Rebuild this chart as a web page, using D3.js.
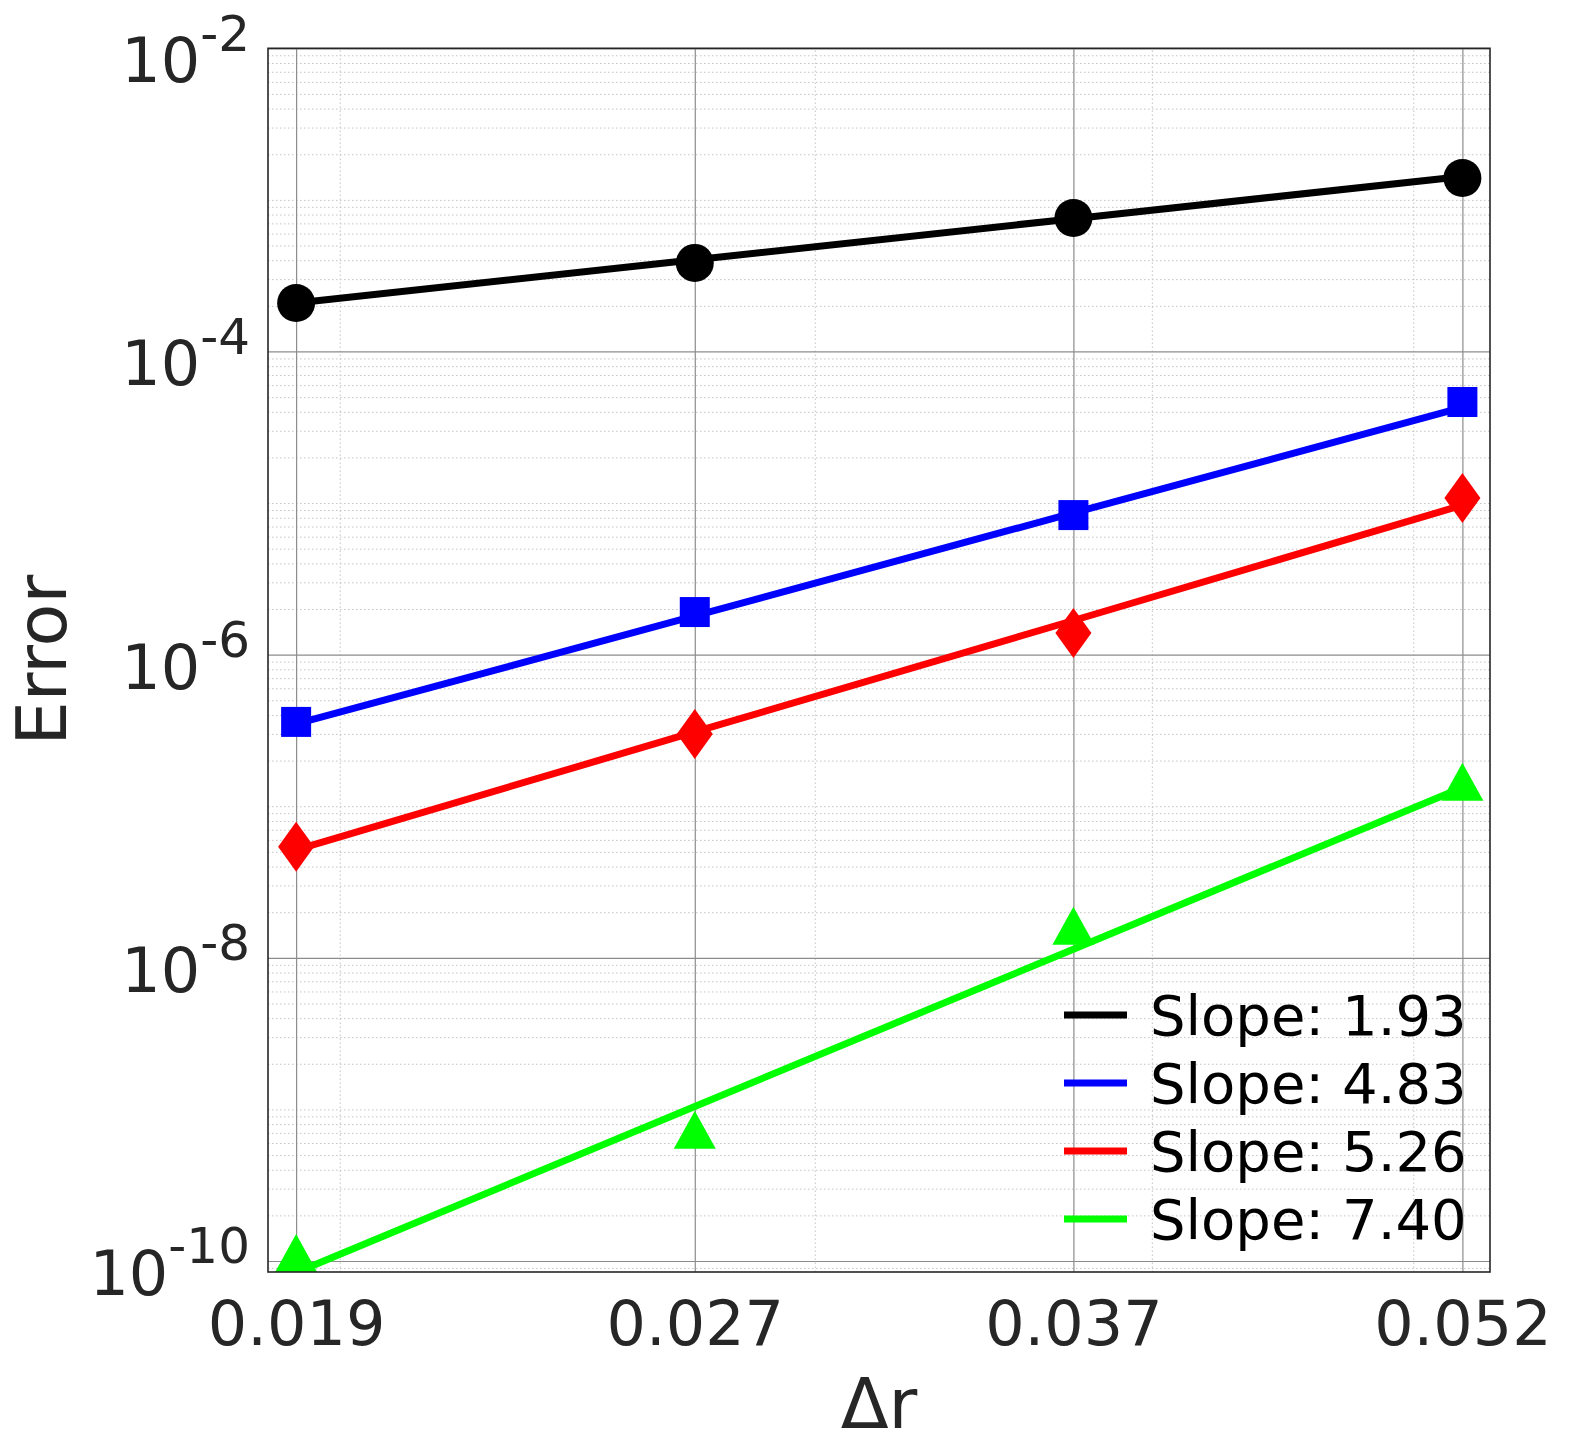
<!DOCTYPE html>
<html>
<head>
<meta charset="utf-8">
<script src="https://cdn.jsdelivr.net/npm/d3@7"></script>
<style>
  body { margin: 0; background: #fff; }
  text { font-family: "DejaVu Sans", sans-serif; fill: #262626; }
</style>
</head>
<body>
<script>
"use strict";

const dr = [0.01927, 0.02708, 0.03741, 0.05214];
const drLabels = ["0.019", "0.027", "0.037", "0.052"];

const errBlack = [2.09e-4, 3.84e-4, 7.60e-4, 1.394e-3];
const errBlue  = [3.60e-7, 1.91e-6, 8.33e-6, 4.64e-5];
const errRed   = [5.41e-8, 3.00e-7, 1.39e-6, 1.08e-5];
const errGreen = [1.13e-10, 7.33e-10, 1.63e-8, 1.45e-7];

// fitted lines drawn through the points
const fitBlack = [2.09e-4, 4.03e-4, 7.52e-4, 1.426e-3];
const fitBlue  = [3.49e-7, 1.80e-6, 8.61e-6, 4.27e-5];
const fitRed   = [5.16e-8, 3.09e-7, 1.68e-6, 9.68e-6];
const fitGreen = [8.39e-11, 1.045e-9, 1.14e-8, 1.33e-7];

const slopes = ["1.93", "4.83", "5.26", "7.40"];

const yMajor = [1e-2, 1e-4, 1e-6, 1e-8, 1e-10];
const xMinor = [0.02, 0.03, 0.04, 0.05];

let width = 1569;
let height = 1440;
let pLeft = 268, pRight = 1490, pTop = 48.3, pBottom = 1272;

let svg = d3.select("body").append("svg").attr("width", width).attr("height", height);

let x = d3.scaleLog().domain([0.018813, 0.053383]).range([pLeft, pRight]);
let y = d3.scaleLog().domain([Math.pow(10, -10.0726), 1e-2]).range([pBottom, pTop]);

let series = [
  { err: errBlack, fit: fitBlack, color: "#000000", marker: "circle" },
  { err: errBlue,  fit: fitBlue,  color: "#0000ff", marker: "square" },
  { err: errRed,   fit: fitRed,   color: "#ff0000", marker: "diamond" },
  { err: errGreen, fit: fitGreen, color: "#00ff00", marker: "triangle" }
];

// minor grid
let isMajor = v => yMajor.some(m => Math.abs(v / m - 1) < 1e-6);
let yMinor = y.ticks().filter(v => !isMajor(v));

svg.append("g")
  .attr("transform", `translate(${pLeft},0)`)
  .call(d3.axisLeft(y).tickValues(yMinor).tickSize(-(pRight - pLeft)).tickFormat(""))
  .call(g => g.select(".domain").remove())
  .selectAll("line").attr("stroke", "#c4c4c4").attr("stroke-width", 1).attr("stroke-dasharray", "1.5,2.5");

svg.append("g")
  .attr("transform", `translate(0,${pBottom})`)
  .call(d3.axisBottom(x).tickValues(xMinor).tickSize(-(pBottom - pTop)).tickFormat(""))
  .call(g => g.select(".domain").remove())
  .selectAll("line").attr("stroke", "#c4c4c4").attr("stroke-width", 1).attr("stroke-dasharray", "1.5,2.5");

// major grid
svg.append("g")
  .attr("transform", `translate(${pLeft},0)`)
  .call(d3.axisLeft(y).tickValues(yMajor).tickSize(-(pRight - pLeft)).tickFormat(""))
  .call(g => g.select(".domain").remove())
  .selectAll("line").attr("stroke", "#8c8c8c").attr("stroke-width", 1.2);

svg.append("g")
  .attr("transform", `translate(0,${pBottom})`)
  .call(d3.axisBottom(x).tickValues(dr).tickSize(-(pBottom - pTop)).tickFormat(""))
  .call(g => g.select(".domain").remove())
  .selectAll("line").attr("stroke", "#8c8c8c").attr("stroke-width", 1.2);

svg.append("clipPath").attr("id", "plot")
  .append("rect").attr("x", pLeft).attr("y", pTop).attr("width", pRight - pLeft).attr("height", pBottom - pTop);

let line = d3.line().x(d => x(d[0])).y(d => y(d[1]));

let lines = svg.append("g").attr("clip-path", "url(#plot)");
series.forEach(s => {
  lines.append("path")
    .datum(dr.map((d, i) => [d, s.fit[i]]))
    .attr("fill", "none")
    .attr("stroke", s.color)
    .attr("stroke-width", 7)
    .attr("d", line);
});

// marker shapes
function markerPath(kind) {
  if (kind === "square") return "M-15,-15H15V15H-15Z";
  if (kind === "diamond") return "M0,-25L18,0L0,25L-18,0Z";
  if (kind === "triangle") return "M0,-19L21,19L-21,19Z";
  return d3.symbol(d3.symbolCircle, Math.PI * 19 * 19)();
}

let marks = svg.append("g");
series.forEach(s => {
  marks.selectAll(null)
    .data(dr.map((d, i) => [d, s.err[i]]))
    .enter()
    .append("path")
      .attr("transform", d => `translate(${x(d[0])},${y(d[1])})`)
      .attr("d", markerPath(s.marker))
      .attr("fill", s.color);
});

// frame
svg.append("rect")
  .attr("x", pLeft).attr("y", pTop)
  .attr("width", pRight - pLeft).attr("height", pBottom - pTop)
  .attr("fill", "none").attr("stroke", "#262626").attr("stroke-width", 1.6);

// x tick labels
svg.append("g")
  .attr("transform", `translate(0,${pBottom})`)
  .call(d3.axisBottom(x).tickValues(dr).tickSize(0).tickFormat((d, i) => drLabels[i]))
  .call(g => g.select(".domain").remove())
  .selectAll("text")
    .attr("y", 73).attr("dy", null)
    .style("font-size", "62px");

// y tick labels as 10^n
svg.append("g")
  .attr("transform", `translate(${pLeft},0)`)
  .call(d3.axisLeft(y).tickValues(yMajor).tickSize(0).tickPadding(18))
  .call(g => g.select(".domain").remove())
  .selectAll("text")
    .attr("dy", null)
    .attr("y", 33.5)
    .style("font-size", "62px")
    .each(function(d) {
      let t = d3.select(this).text(null);
      t.append("tspan").text("10");
      t.append("tspan")
        .attr("dy", -31.5)
        .style("font-size", "50px")
        .text("-" + Math.round(-Math.log10(d)));
    });

// axis titles
svg.append("text")
  .attr("transform", `translate(66,${(pTop + pBottom) / 2}) rotate(-90)`)
  .attr("text-anchor", "middle")
  .style("font-size", "70px")
  .text("Error");

svg.append("text")
  .attr("x", (pLeft + pRight) / 2)
  .attr("y", 1428)
  .attr("text-anchor", "middle")
  .style("font-size", "70px")
  .text("\u0394r");

// legend
let legend = svg.append("g");
series.forEach((s, i) => {
  let ly = 1015 + i * 68;
  legend.append("line")
    .attr("x1", 1064).attr("x2", 1127)
    .attr("y1", ly).attr("y2", ly)
    .attr("stroke", s.color).attr("stroke-width", 7);
  legend.append("text")
    .attr("x", 1150).attr("y", ly + 20)
    .style("font-size", "56px")
    .style("fill", "#000")
    .text("Slope: " + slopes[i]);
});
</script>
</body>
</html>
